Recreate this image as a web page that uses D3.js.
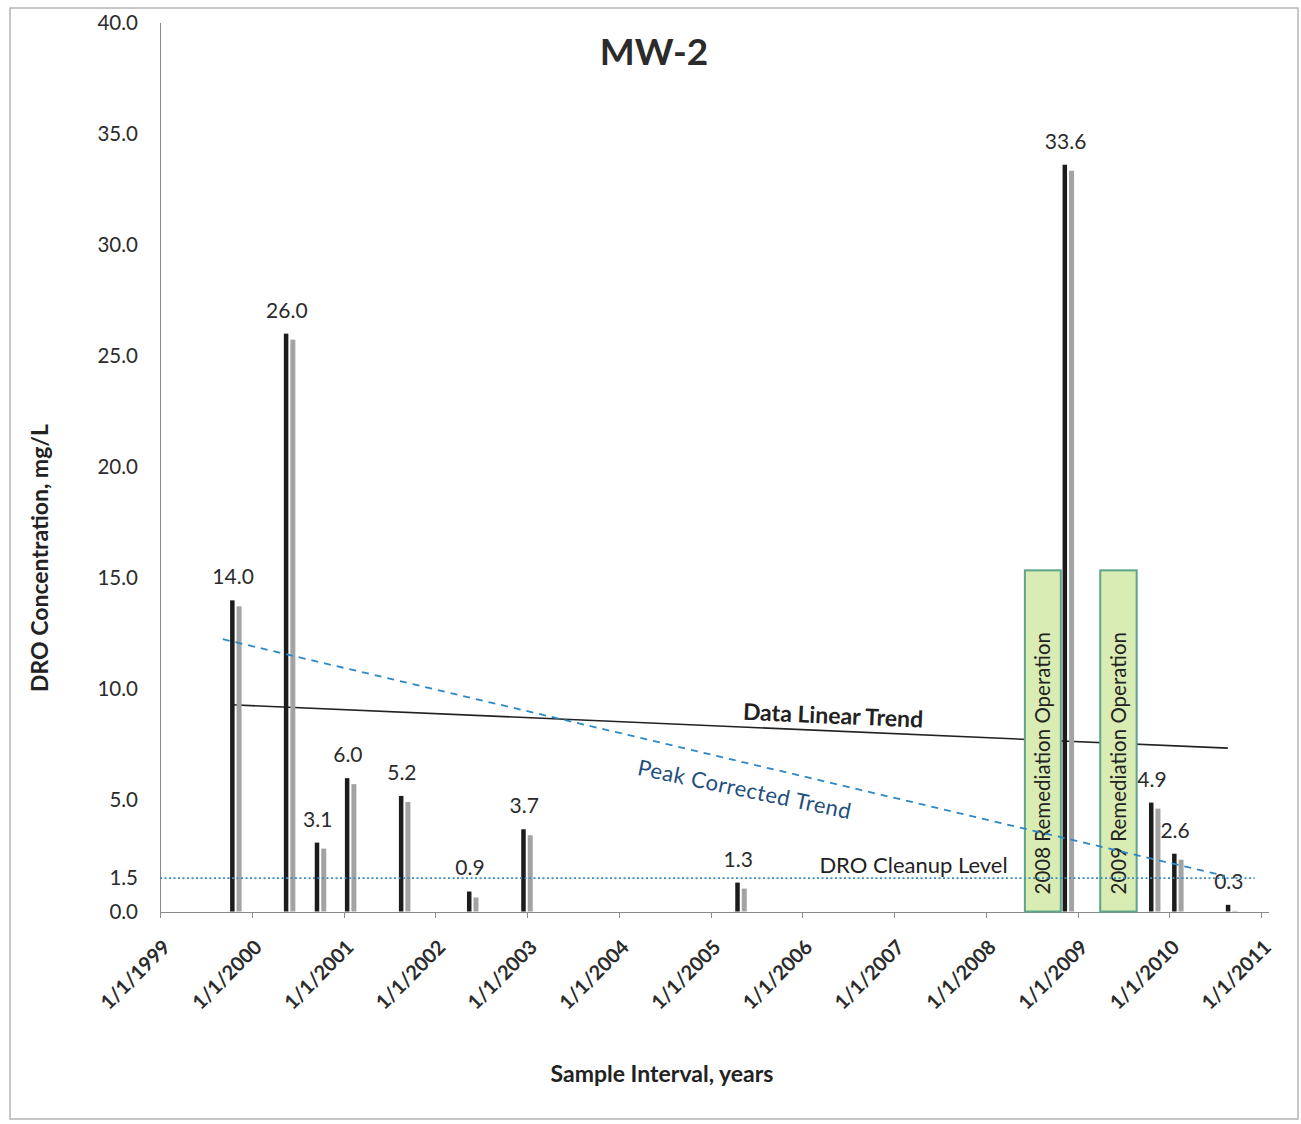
<!DOCTYPE html>
<meta charset="utf-8">
<style>
body {
  margin: 0;
  background: #fff;
  font-family: Lato, "Open Sans", sans-serif;
}
.axis text {
  font-family: Lato, sans-serif;
  fill: #2b2b2b;
}
.axis path,
.axis line {
  fill: none;
  stroke: #8a8a8a;
  shape-rendering: crispEdges;
}
.bar { fill: #1c1c1c; }
.shadow { fill: #a3a3a3; }
.val { font-size: 21px; fill: #2b2b2b; text-anchor: middle; }
</style>
<svg width="1301" height="1124"></svg>
<script src="https://cdnjs.cloudflare.com/ajax/libs/d3/7.8.5/d3.min.js"></script>
<script>

// sample data
var sampleDates = ["1999-10-15", "2000-05-16", "2000-09-16", "2001-01-14", "2001-08-17", "2002-05-15",
                   "2002-12-17", "2005-04-17", "2008-11-10", "2009-10-20", "2010-01-20", "2010-08-22"];
var droValues = [14.0, 26.0, 3.1, 6.0, 5.2, 0.9, 3.7, 1.3, 33.6, 4.9, 2.6, 0.3];

var yTicks = [0, 1.5, 5, 10, 15, 20, 25, 30, 35, 40];

var cleanupLevel = 1.5;
var cleanupDates = ["1999-01-01", "2010-12-07"];

var linearTrendDates = ["1999-10-15", "2010-08-22"];
var linearTrendValues = [9.3, 7.35];

var peakTrendDates = ["1999-09-08", "2010-08-10"];
var peakTrendValues = [12.25, 1.6];

var remediationLabels = ["2008 Remediation Operation", "2009 Remediation Operation"];
var remediationStart = ["2008-06-05", "2009-04-01"];
var remediationEnd = ["2008-10-26", "2009-08-24"];
var remediationTop = 15.35;

var parse = d3.timeParse("%Y-%m-%d");

var svg = d3.select("svg"),
    margin = {top: 22.5, left: 160},
    width = 1101,
    height = 889;

var x = d3.scaleTime()
    .domain([parse("1999-01-01"), parse("2011-01-01")])
    .range([0, width]);
var y = d3.scaleLinear().domain([0, 40]).range([height, 0]);

// outer frame
svg.append("rect")
    .attr("x", 10).attr("y", 8).attr("width", 1288).attr("height", 1111)
    .attr("fill", "none").attr("stroke", "#b5b5b5").attr("stroke-width", 1.5);

var g = svg.append("g")
    .attr("transform", "translate(" + margin.left + "," + margin.top + ")");

// y axis
var yAxis = g.append("g")
    .attr("class", "axis")
    .call(d3.axisLeft(y).tickValues(yTicks).tickSize(0).tickPadding(22).tickFormat(d3.format(".1f")));
yAxis.selectAll("text").style("font-size", "20.5px");

// x axis
var xAxis = g.append("g")
    .attr("class", "axis")
    .attr("transform", "translate(0," + height + ")")
    .call(d3.axisBottom(x).ticks(d3.timeYear.every(1)).tickSize(6).tickSizeOuter(0)
      .tickFormat(d3.timeFormat("%-m/%-d/%Y")));
xAxis.select(".domain").attr("d", "M0,0.5H" + (width + 8));
xAxis.selectAll("text")
    .attr("y", 0).attr("dy", "0.35em")
    .attr("transform", "translate(6,32) rotate(-45)")
    .style("text-anchor", "end")
    .style("font-size", "20px")
    .style("font-weight", "700");

var samples = sampleDates.map(function(d, i) { return {date: parse(d), value: droValues[i]}; });

// linear trend (sits under the remediation boxes)
var line = d3.line()
    .x(function(d) { return x(d[0]); })
    .y(function(d) { return y(d[1]); });

g.append("path")
    .datum(linearTrendDates.map(function(d, i) { return [parse(d), linearTrendValues[i]]; }))
    .attr("d", line)
    .attr("fill", "none").attr("stroke", "#222").attr("stroke-width", 1.6);

// bars with grey drop shadow
g.selectAll(".shadow")
    .data(samples)
  .enter().append("rect")
    .attr("class", "shadow")
    .attr("x", function(d) { return x(d.date) + 4.5; })
    .attr("y", function(d) { return y(d.value) + 6; })
    .attr("width", 5)
    .attr("height", function(d) { return Math.max(0, height - y(d.value) - 6); });

g.selectAll(".bar")
    .data(samples)
  .enter().append("rect")
    .attr("class", "bar")
    .attr("x", function(d) { return x(d.date) - 2; })
    .attr("y", function(d) { return y(d.value); })
    .attr("width", 4.5)
    .attr("height", function(d) { return height - y(d.value); });

g.selectAll(".val")
    .data(samples)
  .enter().append("text")
    .attr("class", "val")
    .attr("x", function(d) { return x(d.date) + 1; })
    .attr("y", function(d) { return y(d.value) - 16; })
    .text(function(d) { return d.value.toFixed(1); });

// remediation boxes
var rem = g.selectAll(".rem")
    .data(remediationLabels)
  .enter().append("g")
    .attr("class", "rem");

rem.append("rect")
    .attr("x", function(d, i) { return x(parse(remediationStart[i])); })
    .attr("y", y(remediationTop))
    .attr("width", function(d, i) { return x(parse(remediationEnd[i])) - x(parse(remediationStart[i])); })
    .attr("height", height - y(remediationTop))
    .attr("fill", "#d9ecb3")
    .attr("stroke", "#5ea58a")
    .attr("stroke-width", 2);

rem.append("text")
    .attr("transform", function(d, i) {
      var cx = (x(parse(remediationStart[i])) + x(parse(remediationEnd[i]))) / 2;
      return "translate(" + (cx + 7.5) + "," + (height - 17) + ") rotate(-90)";
    })
    .style("font-size", "20.5px")
    .style("fill", "#222")
    .text(function(d) { return d; });

// cleanup level
g.append("line")
    .attr("x1", x(parse(cleanupDates[0]))).attr("x2", x(parse(cleanupDates[1])))
    .attr("y1", y(cleanupLevel)).attr("y2", y(cleanupLevel))
    .attr("stroke", "#3b8cc0").attr("stroke-width", 1.6).attr("stroke-dasharray", "2,2.5");

g.append("text")
    .attr("x", x(parse("2006-03-10")))
    .attr("y", y(cleanupLevel) - 5)
    .style("font-size", "22px").style("fill", "#222")
    .text("DRO Cleanup Level");

// peak corrected trend
g.append("path")
    .datum(peakTrendDates.map(function(d, i) { return [parse(d), peakTrendValues[i]]; }))
    .attr("d", line)
    .attr("fill", "none").attr("stroke", "#2c89c6").attr("stroke-width", 1.8)
    .attr("stroke-dasharray", "7,6");

g.append("text")
    .attr("transform", "translate(" + x(parse("2005-05-10")) + "," + y(5.15) + ") rotate(11.8)")
    .style("font-size", "22px").style("fill", "#1f4f7c").style("text-anchor", "middle")
    .style("letter-spacing", "0.5px")
    .text("Peak  Corrected Trend");

g.append("text")
    .attr("transform", "translate(" + x(parse("2006-05-02")) + "," + y(8.45) + ") rotate(2.5)")
    .style("font-size", "23px").style("font-weight", "700").style("fill", "#222").style("text-anchor", "middle")
    .text("Data Linear Trend");

// titles
svg.append("text")
    .attr("x", 654).attr("y", 65)
    .style("font-size", "37px").style("font-weight", "700").style("fill", "#2b2b2b").style("text-anchor", "middle")
    .text("MW-2");

svg.append("text")
    .attr("transform", "translate(48,558) rotate(-90)")
    .style("font-size", "23px").style("font-weight", "700").style("fill", "#222").style("text-anchor", "middle")
    .text("DRO Concentration, mg/L");

svg.append("text")
    .attr("x", 662).attr("y", 1082)
    .style("font-size", "23px").style("font-weight", "700").style("fill", "#222").style("text-anchor", "middle")
    .text("Sample Interval, years");

</script>
